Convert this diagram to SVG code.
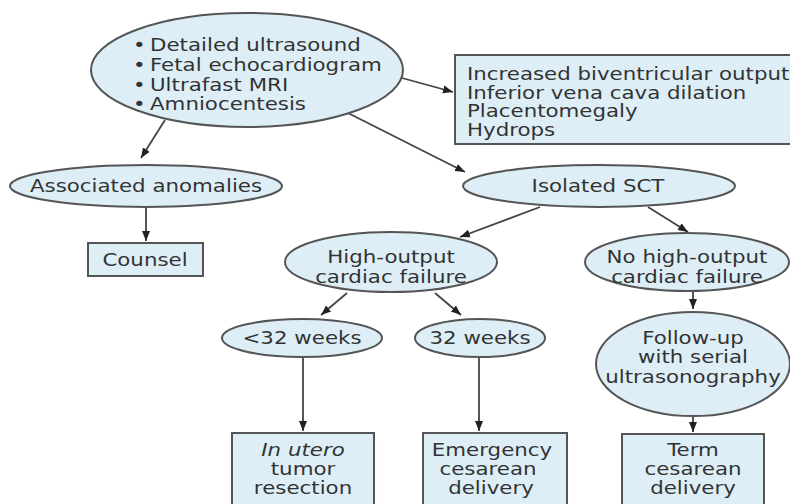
<svg xmlns="http://www.w3.org/2000/svg" width="790" height="504" viewBox="0 0 790 504">
<style>
.n{fill:#ddeef7;stroke:#555;stroke-width:2}
.t{font-family:"DejaVu Sans","Open Sans",sans-serif;font-size:17.5px;fill:#333}
.s{font-size:16.8px}
.c{text-anchor:middle}
.e{stroke:#444;stroke-width:1.8;fill:none;marker-end:url(#ah)}
</style>
<defs>
<marker id="ah" viewBox="0 0 10 10" refX="10" refY="5" markerWidth="10" markerHeight="10" markerUnits="userSpaceOnUse" orient="auto">
<path d="M0,1 L10,5 L0,9 Z" fill="#222"/>
</marker>
</defs>
<rect width="790" height="504" fill="#fff"/>
<g id="connectors">
<line class="e" x1="402" y1="78" x2="453" y2="92"/>
<line class="e" x1="165" y1="120" x2="141" y2="158"/>
<line class="e" x1="348" y1="113" x2="465" y2="172"/>
<line class="e" x1="146" y1="207" x2="146" y2="241"/>
<line class="e" x1="540" y1="207" x2="460" y2="237"/>
<line class="e" x1="648" y1="207" x2="688" y2="232"/>
<line class="e" x1="347" y1="293" x2="321" y2="315"/>
<line class="e" x1="435" y1="293" x2="461" y2="315"/>
<line class="e" x1="303" y1="357" x2="303" y2="431"/>
<line class="e" x1="479" y1="357" x2="479" y2="431"/>
<line class="e" x1="693" y1="291" x2="693" y2="309"/>
<line class="e" x1="693" y1="416" x2="693" y2="432"/>
</g>
<g id="tests">
<ellipse class="n" cx="247" cy="70" rx="156" ry="57"/>
<text class="t" transform="translate(133,51) scale(1.22,1)">•</text><text class="t" transform="translate(150,51) scale(1.22,1)">Detailed ultrasound</text>
<text class="t" transform="translate(133,71) scale(1.22,1)">•</text><text class="t" transform="translate(150,71) scale(1.22,1)">Fetal echocardiogram</text>
<text class="t" transform="translate(133,91) scale(1.22,1)">•</text><text class="t" transform="translate(150,91) scale(1.22,1)">Ultrafast MRI</text>
<text class="t" transform="translate(133,110) scale(1.22,1)">•</text><text class="t" transform="translate(150,110) scale(1.22,1)">Amniocentesis</text>
</g>
<g id="findings">
<rect class="n" x="455" y="55" width="345" height="89"/>
<text class="t s" transform="translate(467,80) scale(1.27,1)">Increased biventricular output</text>
<text class="t s" transform="translate(467,98.5) scale(1.27,1)">Inferior vena cava dilation</text>
<text class="t s" transform="translate(467,117) scale(1.27,1)">Placentomegaly</text>
<text class="t s" transform="translate(467,135.5) scale(1.27,1)">Hydrops</text>
</g>
<g id="associated">
<ellipse class="n" cx="146" cy="186" rx="136" ry="21"/>
<text class="t c" transform="translate(146,192) scale(1.22,1)">Associated anomalies</text>
</g>
<g id="counsel">
<rect class="n" x="88" y="243" width="115" height="33"/>
<text class="t c" transform="translate(145,266) scale(1.22,1)">Counsel</text>
</g>
<g id="isolated">
<ellipse class="n" cx="599" cy="186" rx="136" ry="21"/>
<text class="t c" transform="translate(598,192) scale(1.22,1)">Isolated SCT</text>
</g>
<g id="highoutput">
<ellipse class="n" cx="391" cy="262" rx="106" ry="30"/>
<text class="t c" transform="translate(391,263) scale(1.22,1)">High-output</text>
<text class="t c" transform="translate(391,283) scale(1.22,1)">cardiac failure</text>
</g>
<g id="nohighoutput">
<ellipse class="n" cx="687" cy="262" rx="102" ry="29"/>
<text class="t c" transform="translate(687,263) scale(1.22,1)">No high-output</text>
<text class="t c" transform="translate(687,283) scale(1.22,1)">cardiac failure</text>
</g>
<g id="lt32">
<ellipse class="n" cx="302" cy="338" rx="80" ry="19"/>
<text class="t c" transform="translate(302,344) scale(1.22,1)">&lt;32 weeks</text>
</g>
<g id="ge32">
<ellipse class="n" cx="480" cy="338" rx="65" ry="19"/>
<text class="t c" transform="translate(480,344) scale(1.22,1)">32 weeks</text>
</g>
<g id="followup">
<ellipse class="n" cx="693" cy="364" rx="97" ry="52"/>
<text class="t c" transform="translate(693,344) scale(1.22,1)">Follow-up</text>
<text class="t c" transform="translate(693,363) scale(1.22,1)">with serial</text>
<text class="t c" transform="translate(693,383) scale(1.22,1)">ultrasonography</text>
</g>
<g id="resection">
<rect class="n" x="232" y="433" width="142" height="80"/>
<text class="t c" font-style="italic" transform="translate(303,456) scale(1.22,1)">In utero</text>
<text class="t c" transform="translate(303,475) scale(1.22,1)">tumor</text>
<text class="t c" transform="translate(303,494) scale(1.22,1)">resection</text>
</g>
<g id="emergency">
<rect class="n" x="423" y="433" width="144" height="80"/>
<text class="t c" transform="translate(492,456) scale(1.22,1)">Emergency</text>
<text class="t c" transform="translate(488,475) scale(1.22,1)">cesarean</text>
<text class="t c" transform="translate(491,494) scale(1.22,1)">delivery</text>
</g>
<g id="term">
<rect class="n" x="622" y="434" width="142" height="80"/>
<text class="t c" transform="translate(693,456) scale(1.22,1)">Term</text>
<text class="t c" transform="translate(693,475) scale(1.22,1)">cesarean</text>
<text class="t c" transform="translate(693,494) scale(1.22,1)">delivery</text>
</g>
</svg>
